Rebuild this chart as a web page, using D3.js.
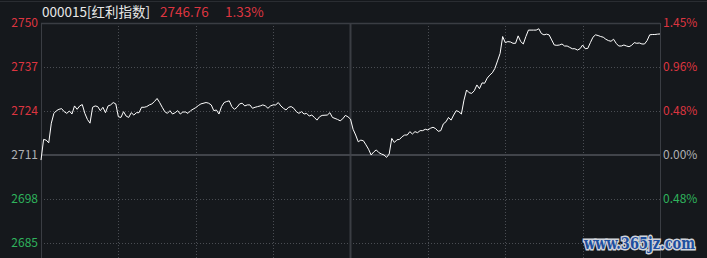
<!DOCTYPE html>
<html>
<head>
<meta charset="utf-8">
<script src="https://cdn.jsdelivr.net/npm/d3@7"></script>
<style>
  html, body { margin: 0; padding: 0; background: #15181c; }
  svg { display: block; }
</style>
</head>
<body>
<script>
// intraday data, minute offsets from 09:30 (120 = 11:30 / 13:00, 240 = 15:00)
var minutes = [
  0,1,2,3,4,5,6,7,8,9,10,11,12,13,14,15,16,17,18,19,20,21,22,23,24,25,26,27,28,29,
  30,31,32,33,34,35,36,37,38,39,40,41,42,43,44,45,46,47,48,49,50,51,52,53,54,55,56,57,58,
  60,61,62,64,65,66,67,68,69,70,71,72,73,74,75,76,77,78,79,80,81,82,83,84,85,86,87,88,89,
  90,91,92,93,94,95,96,97,98,99,100,101,102,103,104,105,106,107,108,109,111,112,113,114,115,
  116,117,118,119,120,
  121,122,123,124,125,126,127,128,129,130,131,132,133,134,135,136,137,138,139,140,
  141,142,143,144,145,146,147,148,149,150,151,152,153,154,155,156,157,158,159,160,
  161,162,163,164,165,166,167,168,169,170,171,172,173,174,175,176,177,178,179,180,
  181,182,183,184,185,186,187,188,189,190,191,192,193,194,195,196,197,198,199,200,
  201,202,203,204,205,206,207,208,209,210,211,212,213,214,215,216,217,218,219,220,
  221,222,223,224,225,226,227,228,229,230,231,232,233,234,235,236,237,238,239,240
];
var prices = [
  2709.5,2715.6,2715.4,2714.6,2720.4,2723.3,2724.1,2724.5,2724.7,2723.8,2723.3,2724.0,2723.1,2725.5,2724.5,2725.5,2725.9,2723.3,2721.5,2720.4,
  2725.1,2725.5,2725.3,2724.1,2725.1,2723.5,2725.5,2725.8,2726.5,2726.1,
  2722.3,2722.1,2723.8,2722.5,2722.1,2723.5,2722.8,2723.5,2723.5,2725.1,2725.1,2725.3,2725.8,2726.1,2726.8,2727.7,2726.5,2725.1,2723.8,2723.3,
  2724.1,2723.1,2723.5,2724.1,2723.1,2723.7,2723.7,2723.3,2724.1,
  2725.0,2725.6,2726.1,2726.5,2726.3,2725.8,2724.1,2724.3,2723.1,2725.3,2726.5,2726.8,2727.0,2725.3,2724.5,2725.1,2726.1,2726.3,2725.5,2725.8,
  2725.8,2724.8,2725.1,2725.3,2725.5,2725.8,2725.5,2724.8,2725.5,
  2725.8,2725.8,2726.5,2725.5,2724.8,2724.3,2725.1,2725.3,2724.8,2723.8,2723.3,2723.8,2723.1,2723.3,2722.5,2722.8,2722.1,2721.3,2722.3,2722.7,
  2722.8,2723.5,2722.1,2721.8,2721.5,
  2721.1,2721.7,2722.7,2722.3,2721.6,
  2718.6,2716.9,2714.9,2715.4,2715.2,2714.0,2712.7,2711.0,2711.9,2712.5,2711.7,2711.3,2711.0,2710.3,2711.3,2715.9,2714.7,2715.5,2715.6,2716.4,
  2716.9,2716.9,2717.9,2717.2,2717.9,2717.6,2718.2,2718.2,2718.6,2718.4,2718.9,2719.2,2718.8,2718.0,2718.2,2720.2,2720.8,2722.1,2721.3,2722.8,
  2724.1,2723.8,2723.1,2727.2,2730.2,2729.4,2729.2,2730.0,2731.7,2730.6,2732.3,2732.2,2733.7,2734.6,2735.3,2736.6,2738.8,2741.0,2746.0,2744.2,
  2744.5,2744.4,2744.0,2744.0,2746.2,2744.5,2743.8,2746.0,2747.9,2747.9,2747.9,2747.9,2748.3,2746.9,2746.5,2746.7,2746.5,2745.0,2743.5,2743.4,
  2743.5,2743.8,2743.2,2743.2,2742.8,2742.4,2742.4,2742.0,2742.4,2743.5,2742.4,2742.5,2744.2,2745.8,2746.5,2746.3,2746.0,2745.8,2745.2,2744.8,
  2744.6,2745.2,2744.0,2743.2,2743.2,2743.5,2743.2,2743.0,2743.4,2744.2,2744.0,2744.1,2743.8,2743.8,2744.8,2746.5,2746.6,2746.6,2746.7,2746.76
];
var priceTicks = [2750, 2737, 2724, 2711, 2698, 2685];
var pctLabels = ['1.45%', '0.96%', '0.48%', '0.00%', '0.48%'];
var timeGrid = [30, 60, 90, 150, 180, 210];
var prevClose = 2711;
var title = '000015[红利指数]';
var lastPrice = '2746.76';
var lastPct = '1.33%';

var W = 707, H = 258;
var padL = 41, padR = 660, padT = 23;

var red = '#dd3540', green = '#2fb35c', gray = '#aeb0b4';
var font = '"Noto Sans CJK SC", "Noto Sans", sans-serif';

var svg = d3.select('body').append('svg')
  .attr('width', W)
  .attr('height', H)
  .style('background', '#15181c');

var x = d3.scaleLinear().domain([0, 240]).range([padL, padR]);
var y = d3.scaleLinear().domain([2685, 2750]).range([243, padT]);

function colorFor(v) {
  return v > prevClose ? red : (v < prevClose ? green : gray);
}

// top strip line
svg.append('line')
  .attr('x1', 0).attr('x2', W).attr('y1', 1.5).attr('y2', 1.5)
  .attr('stroke', '#2a2d32').attr('stroke-width', 1);

// dotted grid
var grid = svg.append('g').attr('stroke', '#4a4d53').attr('stroke-dasharray', '1,2');
grid.selectAll('.hg')
  .data(priceTicks.filter(d => d !== prevClose && d !== 2750))
  .join('line')
    .attr('class', 'hg')
    .attr('x1', padL).attr('x2', padR)
    .attr('y1', d => Math.round(y(d)) + 0.5)
    .attr('y2', d => Math.round(y(d)) + 0.5);
grid.selectAll('.vg')
  .data(timeGrid)
  .join('line')
    .attr('class', 'vg')
    .attr('x1', d => Math.round(x(d)) + 0.5)
    .attr('x2', d => Math.round(x(d)) + 0.5)
    .attr('y1', padT).attr('y2', H);

// frame
var frame = svg.append('g').attr('stroke', '#3a3d43');
frame.append('line').attr('x1', padL).attr('x2', padR)
  .attr('y1', padT + 0.5).attr('y2', padT + 0.5).attr('stroke-width', 1.3);
frame.append('line').attr('x1', padL + 0.5).attr('x2', padL + 0.5)
  .attr('y1', padT).attr('y2', H);
frame.append('line').attr('x1', padR + 0.5).attr('x2', padR + 0.5)
  .attr('y1', padT).attr('y2', H);
frame.append('line').attr('x1', x(120)).attr('x2', x(120))
  .attr('y1', padT).attr('y2', H).attr('stroke-width', 2);
frame.append('line').attr('x1', padL).attr('x2', padR)
  .attr('y1', y(prevClose)).attr('y2', y(prevClose))
  .attr('stroke', '#41444a').attr('stroke-width', 2.2);

// price line
var pts = minutes.map((m, i) => [m, prices[i]]);
svg.append('path')
  .datum(pts)
  .attr('fill', 'none')
  .attr('stroke', '#ffffff')
  .attr('stroke-width', 1)
  .attr('stroke-linejoin', 'round')
  .attr('d', d3.line().x(d => x(d[0])).y(d => y(d[1])));

// left axis
var yAxisL = svg.append('g')
  .attr('transform', 'translate(38,0)')
  .call(d3.axisLeft(y).tickValues(priceTicks).tickFormat(d3.format('d'))
    .tickSize(0).tickPadding(0));
yAxisL.select('.domain').remove();
yAxisL.selectAll('text')
  .attr('fill', d => colorFor(d))
  .style('font-family', font)
  .style('font-size', '12px');

// right axis (percent)
var yAxisR = svg.append('g')
  .attr('transform', 'translate(663,0)')
  .call(d3.axisRight(y).tickValues(priceTicks.slice(0, pctLabels.length))
    .tickFormat((d, i) => pctLabels[i]).tickSize(0).tickPadding(0));
yAxisR.select('.domain').remove();
yAxisR.selectAll('text')
  .attr('fill', d => colorFor(d))
  .style('font-family', font)
  .style('font-size', '12px');

// header
var head = svg.append('g').style('font-family', font).style('font-size', '13.5px');
head.append('text').attr('x', 42).attr('y', 17).attr('fill', '#e8e8e8').text(title);
head.append('text').attr('x', 160).attr('y', 17).attr('fill', red).text(lastPrice);
head.append('text').attr('x', 225).attr('y', 17).attr('fill', red).text(lastPct);

// watermark
svg.append('text')
  .attr('x', 584).attr('y', 249)
  .attr('textLength', 111)
  .attr('lengthAdjust', 'spacingAndGlyphs')
  .style('font-family', '"DejaVu Serif", serif')
  .style('font-weight', 'bold')
  .style('font-size', '16px')
  .attr('fill', '#1e4f9f')
  .attr('stroke', '#cfd3da')
  .attr('stroke-width', 3)
  .attr('paint-order', 'stroke')
  .text('www.365jz.com');
</script>
</body>
</html>
